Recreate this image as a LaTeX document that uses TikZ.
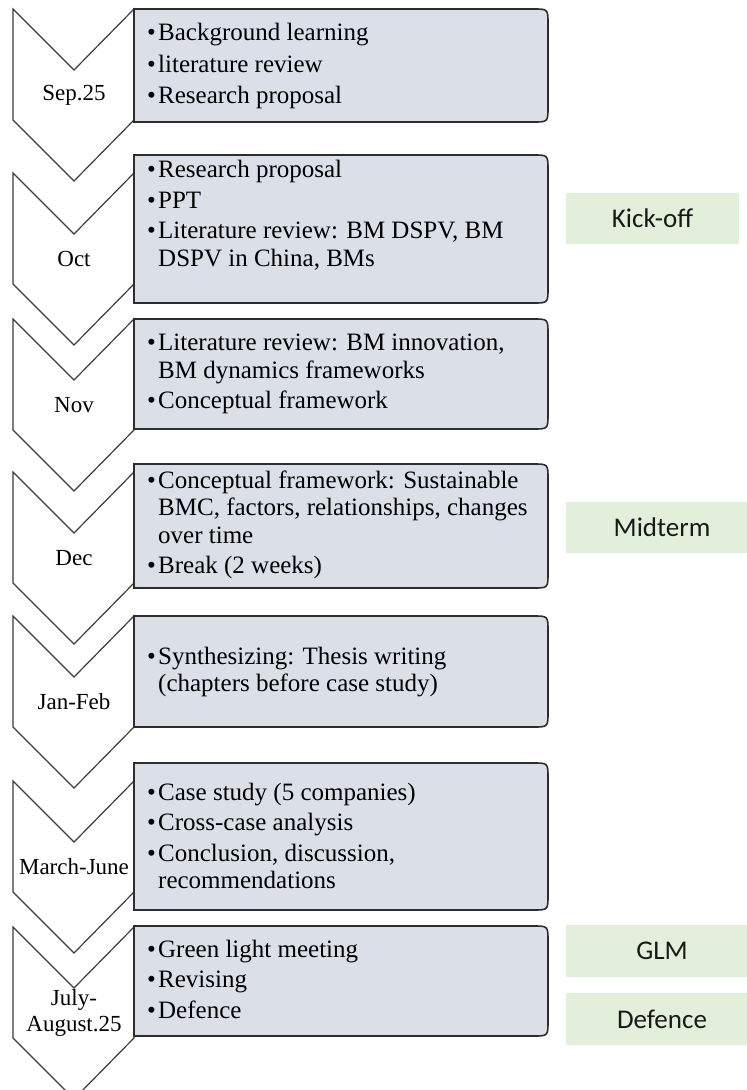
\documentclass[tikz,border=0pt]{standalone}
\usepackage{fontspec}
\setmainfont{Liberation Serif}
\newfontfamily\milestonefont{Carlito}
\definecolor{boxfill}{RGB}{218,223,232}
\definecolor{milefill}{RGB}{226,239,218}
\definecolor{edgeline}{RGB}{45,45,45}
\definecolor{chevline}{RGB}{60,60,60}

% bullet with a fixed hanging indent, and the matching indent for wrapped lines
\newcommand\bulletmark{\makebox[11pt][l]{•}}
\newcommand\contindent{\hspace*{11pt}}

% one timeline stage: chevron with its date and the task box beside it
% #1 name, #2 chevron top, #3 box top, #4 box bottom, #5 date label
\newcommand\stage[5]{%
  \draw[chev] (13,#2) -- (74,#2+61) -- (134,#2) -- (134,#2+111)
        -- (74,#2+172) -- (13,#2+111) -- cycle;
  \node[chevlabel] (#1-date) at (74,#2+86) {#5};
  \draw[taskbox] (134,#3) -- (533,#3) .. controls (548,#3) .. (548,#3+15)
        -- (548,#4-15) .. controls (548,#4) .. (533,#4) -- (134,#4) -- cycle;
}

\begin{document}
\begin{tikzpicture}[x=1pt,y=-1pt,
  chev/.style={draw=chevline, line width=1.2pt, fill=white, line join=miter},
  taskbox/.style={draw=edgeline, line width=1.6pt, fill=boxfill},
  chevlabel/.style={font=\fontsize{23}{26}\selectfont, align=center, inner sep=0pt},
  tasktext/.style={font=\fontsize{25}{27.5}\selectfont, align=left, anchor=west, inner sep=0pt},
  milestone/.style={fill=milefill, draw=none, inner sep=0pt,
    font=\milestonefont\fontsize{27}{30}\selectfont, text=black!90}]

\useasboundingbox (0,0) rectangle (747,1090);

\stage{s1}{9}{9}{122}{Sep.25}
\stage{s2}{173}{155}{303}{Oct}
\stage{s3}{319}{319}{429}{Nov}
\stage{s4}{472}{464}{588}{Dec}
\stage{s5}{616}{616}{727}{Jan-Feb}
\stage{s6}{781}{763}{910}{March-June}
\stage{s7}{927}{926}{1036}{July-\\August.25}

\node[tasktext] (s1-tasks) at (147,66) {\bulletmark Background learning\\[4pt]
  \bulletmark literature review\\[4pt]
  \bulletmark Research proposal};
\node[tasktext] (s2-tasks) at (147,215) {\bulletmark Research proposal\\[3pt]
  \bulletmark PPT\\[3pt]
  \bulletmark Literature review: BM DSPV, BM\\
  \contindent DSPV in China, BMs};
\node[tasktext] (s3-tasks) at (147,374) {\bulletmark Literature review: BM innovation,\\
  \contindent BM dynamics frameworks\\[3pt]
  \bulletmark Conceptual framework};
\node[tasktext] (s4-tasks) at (147,525) {\bulletmark Conceptual framework: Sustainable\\
  \contindent BMC, factors, relationships, changes\\
  \contindent over time\\[3pt]
  \bulletmark Break (2 weeks)};
\node[tasktext] (s5-tasks) at (147,672) {\bulletmark Synthesizing: Thesis writing\\
  \contindent (chapters before case study)};
\node[tasktext] (s6-tasks) at (147,836) {\bulletmark Case study (5 companies)\\[3pt]
  \bulletmark Cross-case analysis\\[3pt]
  \bulletmark Conclusion, discussion,\\
  \contindent recommendations};
\node[tasktext] (s7-tasks) at (147,979) {\bulletmark Green light meeting\\[3pt]
  \bulletmark Revising\\[3pt]
  \bulletmark Defence};

% milestones on the right
\node[milestone, minimum width=173, minimum height=51] (kickoff) at (652.5,218.5) {Kick-off};
\node[milestone, minimum width=192, minimum height=51] (midterm) at (662,527.5) {Midterm};
\node[milestone, minimum width=192, minimum height=52] (glm) at (662,951) {GLM};
\node[milestone, minimum width=192, minimum height=52] (defence) at (662,1019) {Defence};
\end{tikzpicture}
\end{document}
